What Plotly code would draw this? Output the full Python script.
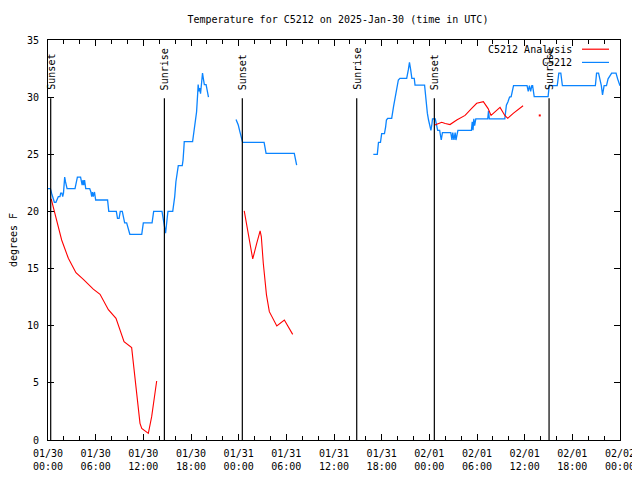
import pandas as pd
import plotly.graph_objects as go

BASE = pd.Timestamp("2025-01-30 00:00")

# Observations (hours since 2025-01-30 00:00 UTC, deg F); None = gap
obs_hours = [0.0, 0.3, 0.45, 0.6, 0.8, 1.0, 1.15, 1.3, 1.5, 1.6, 1.75, 1.85, 1.95, 2.1, 2.2, 2.3, 2.4,
             3.4, 3.55, 3.7, 4.1, 4.2, 4.3, 4.4, 4.5, 4.6, 4.75, 5.25, 5.4, 5.5, 5.6, 5.7, 5.85, 6.0,
             7.5, 7.65, 8.6, 8.75, 8.95, 9.1, 9.35, 9.5, 9.65, 9.9, 10.1, 10.3, 11.8, 12.0, 13.1, 13.3,
             14.35, 14.5, 14.65, 14.8, 15.0, 15.1, 15.7, 15.8, 15.95, 16.1, 16.2, 16.3, 16.4, 16.9,
             17.0, 17.1, 17.15, 18.2, 18.3, 18.4, 18.55, 18.7, 18.84, 18.9, 19.0, 19.1, 19.2, 19.35,
             19.45, 19.55, 19.68, 19.9, 20.0, 20.1, 20.2,
             None,
             23.67, 23.95, 24.15, 24.35, 24.5, 27.2, 27.45, 31.0, 31.15, 31.3,
             None,
             40.95, 41.45, 41.6, 41.85, 42.0, 42.35, 42.5, 42.6, 42.76, 43.26, 43.5, 43.7, 43.9, 44.1,
             44.3, 45.15, 45.36, 45.5, 45.65, 45.8, 46.1, 46.2, 47.4, 47.5, 47.6, 47.75, 47.9, 48.05,
             48.2, 48.3, 48.4, 48.75, 48.9, 49.05, 49.3, 49.4, 49.5, 49.65, 50.7, 50.85, 50.95, 51.1,
             51.25, 51.35, 51.5, 51.6, 53.3, 53.4, 53.5, 53.6, 53.7, 53.85, 55.35, 55.45, 55.55, 57.5,
             57.6, 57.7, 57.9, 58.1, 58.3, 58.45, 58.6, 60.3, 60.45, 60.6, 60.75, 60.9, 61.0, 61.2,
             62.95, 63.1, 63.2, 64.1, 64.3, 64.55, 64.75, 68.9, 69.05, 69.3, 69.5, 69.65, 69.8, 70.0,
             70.3, 70.5, 70.95, 71.5, 71.7, 72.0]
obs_temps = [22.0, 22.0, 21.6, 21.2, 20.8, 20.8, 21.1, 21.3, 21.3, 21.6, 21.6, 21.3, 21.6, 23.0, 22.6, 22.3, 22.0,
             22.0, 22.6, 23.0, 23.0, 22.6, 22.3, 22.75, 22.3, 22.75, 22.0, 22.0, 21.7, 21.3, 21.7, 21.3, 21.7, 21.0,
             21.0, 20.0, 20.0, 19.4, 19.4, 20.0, 20.0, 19.5, 19.0, 19.0, 18.5, 18.0, 18.0, 19.0, 19.0, 20.0,
             20.0, 19.25, 18.8, 18.1, 19.4, 20.0, 20.0, 20.4, 21.3, 22.6, 23.2, 23.6, 24.0, 24.0,
             24.5, 25.5, 26.1, 26.1, 26.7, 27.3, 27.85, 28.7, 30.3, 31.1, 30.5, 30.8, 30.3, 31.65,
             32.1, 31.65, 31.1, 31.1, 30.8, 30.5, 30.0,
             None,
             28.05, 27.56, 26.98, 26.25, 26.05, 26.05, 25.08, 25.08, 24.5, 24.06,
             None,
             25.0, 25.0, 26.05, 26.05, 26.8, 26.8, 27.4, 28.0, 28.15, 28.15, 29.2, 29.9, 30.6, 31.5,
             31.65, 31.65, 32.4, 33.05, 32.4, 31.65, 31.65, 31.06, 31.06, 30.2, 29.2, 28.6, 28.0, 27.56,
             27.1, 27.5, 28.1, 28.1, 27.56, 27.1, 27.1, 26.7, 26.25, 26.9, 26.9, 26.25, 26.9, 26.25,
             26.9, 26.25, 26.9, 27.1, 27.1, 27.85, 27.1, 28.1, 27.5, 28.1, 28.1, 28.8, 28.1, 28.1,
             28.7, 29.3, 29.6, 30.0, 30.04, 30.5, 31.0, 31.0, 30.5, 31.0, 30.5, 31.0, 31.0, 30.04,
             30.04, 31.06, 31.0, 31.0, 32.1, 32.1, 31.0, 31.0, 32.1, 32.1, 31.6, 31.0, 30.2, 31.0,
             31.0, 31.6, 32.1, 32.1, 31.6, 31.0]

# Analysis
ana_hours = [0.4, 1.1, 1.72, 2.56, 3.52, 4.45, 5.7, 6.55, 7.6, 8.56, 9.57, 10.53, 10.75, 11.16, 11.58,
             11.8, 12.63, 13.05, 13.68,
             None,
             24.7, 25.2, 25.77, 26.27, 26.7, 26.85, 27.1, 27.5, 27.86, 28.8, 29.75, 30.8,
             None,
             48.7, 49.56, 50.0, 50.6, 51.45, 52.5, 53.3, 53.96, 54.8, 55.4, 55.77, 56.5, 56.9, 57.5,
             57.87, 58.6, 59.8]
ana_temps = [21.1, 19.25, 17.5, 15.9, 14.64, 14.06, 13.2, 12.75, 11.4, 10.65, 8.6, 8.08, 6.7, 4.1, 1.46,
             1.02, 0.58, 2.04, 5.16,
             None,
             20.04, 18.1, 15.84, 17.2, 18.3, 17.8, 15.46, 12.7, 11.23, 9.98, 10.5, 9.24,
             None,
             27.56, 27.8, 27.7, 27.6, 28.0, 28.4, 29.0, 29.46, 29.6, 29.0, 28.4, 28.9, 29.1, 28.4,
             28.15, 28.6, 29.25]
ana_dot_hours = [61.9]
ana_dot_temps = [28.4]

# Sun events
sun_hours = [0.34, 14.65, 24.46, 38.86, 48.63, 63.07]
sun_labels = ["Sunset", "Sunrise", "Sunset", "Sunrise", "Sunset", "Sunrise"]
sun_line_top = 29.9
sun_label_base = 30.45

x_tick_hours = list(range(0, 73, 6))


def to_time(hours):
    return [BASE + pd.Timedelta(hours=h) if h is not None else None for h in hours]


FONT = "DejaVu Sans Mono"
RED = "#ff0000"
BLUE = "#0a84ff"

# the page body adds an 8px offset; figure is sized so it ends at the window edge
FIG_W, FIG_H = 632, 472

fig = go.Figure()
fig.add_trace(go.Scatter(x=to_time(obs_hours), y=obs_temps, mode="lines",
                         line=dict(color=BLUE, width=1.3), connectgaps=False, name="C5212"))
fig.add_trace(go.Scatter(x=to_time(ana_hours), y=ana_temps, mode="lines",
                         line=dict(color=RED, width=1.1), connectgaps=False, name="C5212 Analysis"))
fig.add_trace(go.Scatter(x=to_time(ana_dot_hours), y=ana_dot_temps, mode="markers",
                         marker=dict(color=RED, size=2, symbol="square"), showlegend=False))

for h, lab in zip(sun_hours, sun_labels):
    t = BASE + pd.Timedelta(hours=h)
    fig.add_shape(type="line", xref="x", yref="y", x0=t, x1=t, y0=0, y1=sun_line_top,
                  line=dict(color="black", width=1.2))
    fig.add_annotation(x=t, y=sun_label_base, xref="x", yref="y", text=lab, textangle=-90,
                       showarrow=False, xanchor="center", yanchor="bottom",
                       font=dict(family=FONT, size=10, color="black"))

# gnuplot-style key (text on left, sample line on right)
key = [("C5212 Analysis", RED, 0.977), ("C5212", BLUE, 0.944)]
for text, col, yp in key:
    fig.add_annotation(x=0.9196, y=yp, xref="paper", yref="paper", text=text, showarrow=False,
                       xanchor="right", yanchor="middle", font=dict(family=FONT, size=10, color="black"))
    fig.add_shape(type="line", xref="paper", yref="paper", x0=0.9336, x1=0.9808, y0=yp, y1=yp,
                  line=dict(color=col, width=1.2))

tickvals = to_time(x_tick_hours)
ticktext = [t.strftime("%m/%d<br>%H:%M") for t in tickvals]

fig.update_layout(
    width=FIG_W, height=FIG_H,
    margin=dict(l=40, r=20, t=32, b=40, autoexpand=False),
    paper_bgcolor="white", plot_bgcolor="white",
    showlegend=False,
    font=dict(family=FONT, size=10, color="black"),
    title=dict(text="Temperature for C5212 on 2025-Jan-30 (time in UTC)", x=0.522, xanchor="center",
               y=1 - 11 / FIG_H, yanchor="middle", yref="container",
               font=dict(family=FONT, size=10, color="black")),
)
fig.update_xaxes(
    range=[BASE, BASE + pd.Timedelta(hours=72)],
    tickmode="array", tickvals=tickvals, ticktext=ticktext,
    ticks="inside", ticklen=6, tickcolor="black", tickwidth=1,
    minor=dict(dtick=2 * 3600 * 1000, ticks="inside", ticklen=4, tickcolor="black"),
    showline=True, linecolor="black", linewidth=1, mirror="ticks",
    showgrid=False, zeroline=False, ticklabelstandoff=4, automargin=False,
    tickfont=dict(family=FONT, size=10, color="black"),
)
fig.update_yaxes(
    range=[0, 35], tickmode="linear", tick0=0, dtick=5,
    ticks="inside", ticklen=6, tickcolor="black", tickwidth=1,
    showline=True, linecolor="black", linewidth=1, mirror="ticks",
    showgrid=False, zeroline=False, ticklabelstandoff=6, automargin=False,
    tickfont=dict(family=FONT, size=10, color="black"),
    title=dict(text="degrees F", standoff=14, font=dict(family=FONT, size=10, color="black")),
)

fig.write_html("out.html")
